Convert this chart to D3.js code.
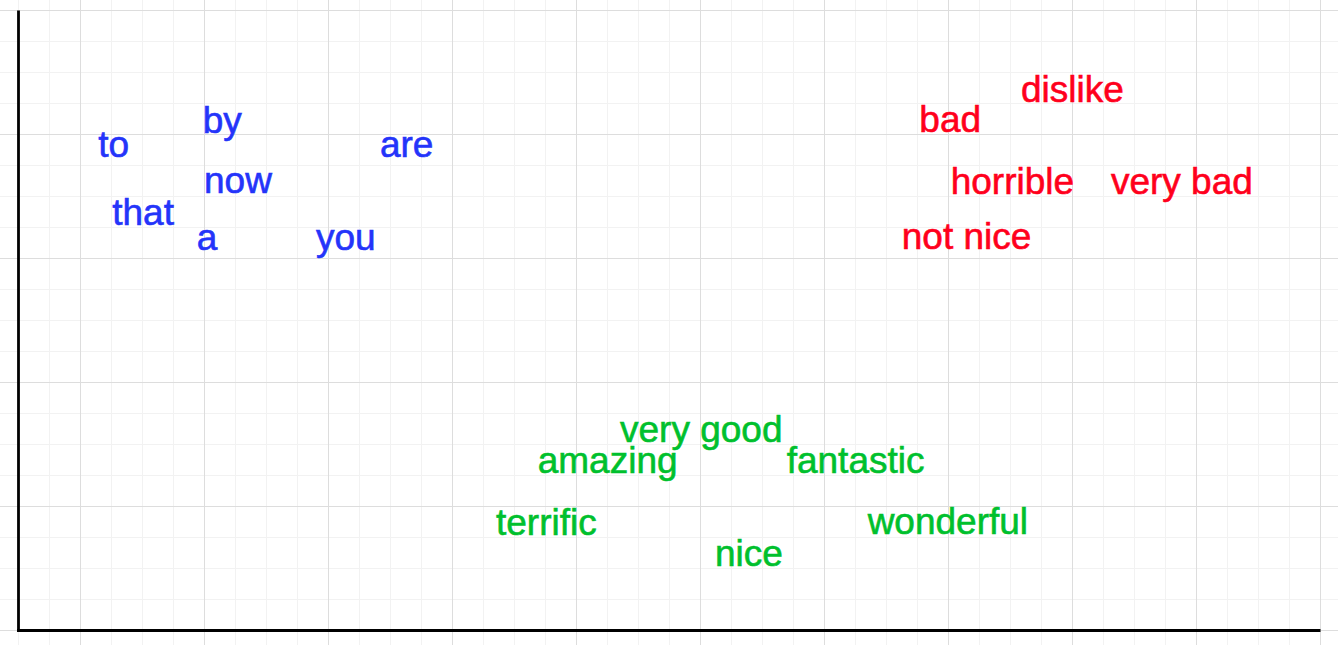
<!DOCTYPE html>
<html>
<head>
<meta charset="utf-8">
<script src="https://cdn.jsdelivr.net/npm/d3@7"></script>
<style>
  html, body { margin: 0; padding: 0; background: #fff; }
  svg { display: block; }
</style>
</head>
<body>
<svg id="chart" width="1338" height="645"></svg>
<script>
// ---- data (x = left edge of label, y = baseline, in data units) ----
const blueWords = ["to", "by", "are", "now", "that", "a", "you"];
const blueX     = [0.144, 0.986, 2.415, 0.996, 0.256, 0.937, 1.899];
const blueY     = [3.817, 4.010, 3.817, 3.527, 3.272, 3.070, 3.070];

const redWords  = ["dislike", "bad", "horrible", "very bad", "not nice"];
const redX      = [7.585, 6.765, 7.018, 8.310, 6.623];
const redY      = [4.266, 4.019, 3.522, 3.522, 3.078];

const greenWords = ["very good", "amazing", "fantastic", "terrific", "wonderful", "nice"];
const greenX     = [4.351, 3.687, 5.695, 3.351, 6.348, 5.117];
const greenY     = [1.519, 1.269, 1.272, 0.774, 0.780, 0.524];

const xDomain = [-0.5, 10];
const yDomain = [0, 5];
const gridStep = 0.25;

// ---- layout ----
const W = 1338, H = 645;
const svg = d3.select("#chart");
const x = d3.scaleLinear().domain(xDomain).range([18.5, 1320.5]);
const y = d3.scaleLinear().domain(yDomain).range([630.5, 10.5]);

// grid
const xGrid = d3.range(Math.round((xDomain[1] - xDomain[0]) / gridStep) + 1).map(i => xDomain[0] + i * gridStep);
const yGrid = d3.range(Math.round((yDomain[1] - yDomain[0]) / gridStep) + 1).map(i => yDomain[0] + i * gridStep);
const isMajor = v => Math.abs(v - Math.round(v)) < 1e-6;

const grid = svg.append("g");
grid.selectAll("line.minorx").data(xGrid.filter(v => !isMajor(v))).join("line")
  .attr("x1", d => x(d)).attr("x2", d => x(d)).attr("y1", 0).attr("y2", H)
  .attr("stroke", "#f2f2f2").attr("stroke-width", 1);
grid.selectAll("line.minory").data(yGrid.filter(v => !isMajor(v))).join("line")
  .attr("y1", d => y(d)).attr("y2", d => y(d)).attr("x1", 0).attr("x2", W)
  .attr("stroke", "#f2f2f2").attr("stroke-width", 1);
grid.selectAll("line.majorx").data(xGrid.filter(isMajor)).join("line")
  .attr("x1", d => x(d)).attr("x2", d => x(d)).attr("y1", 0).attr("y2", H)
  .attr("stroke", "#dddddd").attr("stroke-width", 1);
grid.selectAll("line.majory").data(yGrid.filter(isMajor)).join("line")
  .attr("y1", d => y(d)).attr("y2", d => y(d)).attr("x1", 0).attr("x2", W)
  .attr("stroke", "#dddddd").attr("stroke-width", 1);

// axes
const axes = svg.append("g");
axes.append("line")
  .attr("x1", x(xDomain[0])).attr("x2", x(xDomain[0]))
  .attr("y1", y(yDomain[1])).attr("y2", y(yDomain[0]) + 1.5)
  .attr("stroke", "#000").attr("stroke-width", 2.8);
axes.append("line")
  .attr("x1", x(xDomain[0]) - 1.4).attr("x2", x(xDomain[1]))
  .attr("y1", y(yDomain[0])).attr("y2", y(yDomain[0]))
  .attr("stroke", "#000").attr("stroke-width", 3);

// labels
function drawGroup(words, xs, ys, color) {
  const data = words.map((w, i) => ({ w, x: xs[i], y: ys[i] }));
  svg.append("g").selectAll("text").data(data).join("text")
    .attr("x", d => x(d.x))
    .attr("y", d => y(d.y))
    .attr("fill", color)
    .attr("stroke", color)
    .attr("stroke-width", 0.6)
    .attr("font-family", "'Liberation Sans', Arial, Helvetica, sans-serif")
    .attr("font-size", 37)
    .text(d => d.w);
}
drawGroup(blueWords, blueX, blueY, "rgb(36,52,250)");
drawGroup(redWords, redX, redY, "rgb(255,0,28)");
drawGroup(greenWords, greenX, greenY, "rgb(0,192,45)");
</script>
</body>
</html>
